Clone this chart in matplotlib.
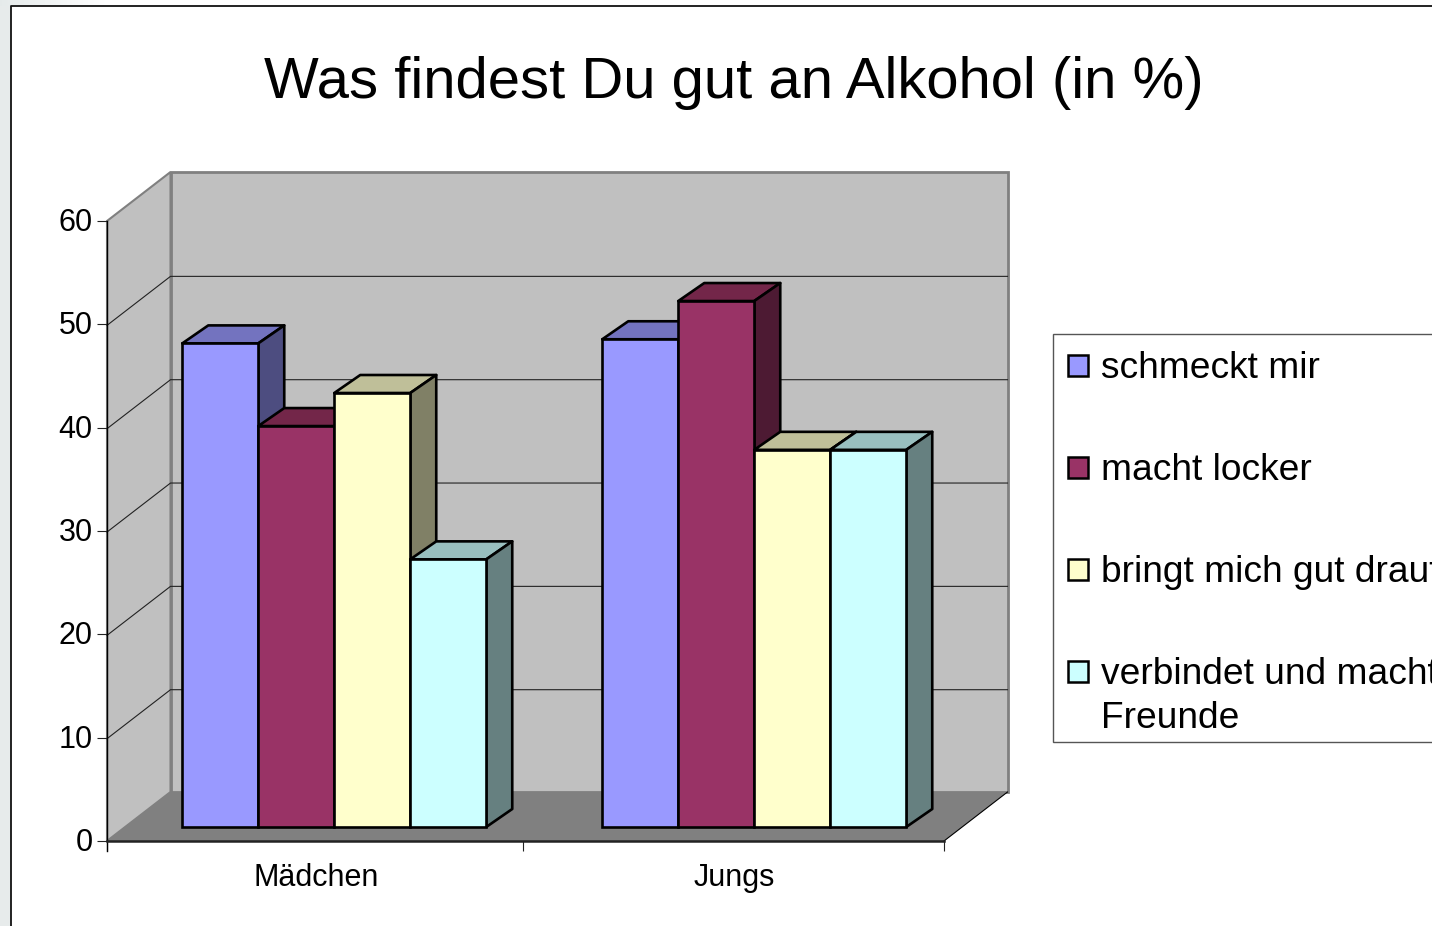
import numpy as np
import matplotlib
matplotlib.use('Agg')
import matplotlib.pyplot as plt
from matplotlib.patches import Rectangle
from matplotlib.transforms import ScaledTranslation

plt.rcParams['font.family'] = ['Liberation Sans', 'DejaVu Sans']

title = 'Was findest Du gut an Alkohol (in %)'
groups = ['Mädchen', 'Jungs']
series = ['schmeckt mir', 'macht locker', 'bringt mich gut drauf', 'verbindet und macht\nFreunde']
schmeckt = [46.8, 47.2]
locker = [38.8, 50.9]
drauf = [42, 36.5]
freunde = [25.9, 36.5]
values = [schmeckt, locker, drauf, freunde]
y_ticks = [0, 10, 20, 30, 40, 50, 60]
colors = ['#9999ff', '#993366', '#ffffcc', '#ccffff']
tops = ['#7373bf', '#732649', '#bfbf99', '#99bfbf']
sides = ['#4d4d80', '#4d1a33', '#808066', '#668080']

W, H = 1432, 926
fig = plt.figure(figsize=(W / 100, H / 100), dpi=100, facecolor='white')

# window chrome lives in a pixel axes
bg = fig.add_axes([0, 0, 1, 1], zorder=0)
fade = np.linspace(0, 1, 200).reshape(1, -1)
bg.imshow(np.dstack([0.90 + 0.10 * fade, 0.92 + 0.08 * fade, 0.92 + 0.08 * fade]),
          extent=(0, 110, 6, 0), aspect='auto')
bg.add_patch(Rectangle((0, 6), 11, H, fc='#e7ebeb', ec='none'))
bg.plot([11, 11, W], [H, 6, 6], color='#111111', lw=1.3)
bg.set_xlim(0, W)
bg.set_ylim(H, 0)
bg.axis('off')

# axes = the front plane of the 3d box
ax = fig.add_axes([107 / W, (H - 841) / H, (944 - 107) / W, 620 / H], zorder=1)
ax.set_xlim(0, len(groups))
ax.set_ylim(0, 60)
ax.patch.set_visible(False)
for s in ax.spines.values():
    s.set_visible(False)

ux = len(groups) / 837.0   # data per pixel
uy = 60 / 620.0
wall_dx, wall_dy = 63.5 * ux, 49 * uy
base_dx, base_dy = 18 * ux, 14 * uy
bar_dx, bar_dy = 26 * ux, 18 * uy
bar_w = 76 * ux
group_step = 420 * ux
n = len(series)

# walls and floor
xr = len(groups)
ax.fill([0, wall_dx, wall_dx, 0], [0, wall_dy, 60 + wall_dy, 60], fc='#c0c0c0', ec='#808080', lw=1.5, clip_on=False, zorder=1)
ax.fill([wall_dx, xr + wall_dx, xr + wall_dx, wall_dx], [wall_dy, wall_dy, 60 + wall_dy, 60 + wall_dy],
        fc='#c0c0c0', ec='#808080', lw=2, clip_on=False, zorder=1)
ax.fill([0, xr, xr + wall_dx, wall_dx], [0, 0, wall_dy, wall_dy], fc='#808080', ec='none', clip_on=False, zorder=2)
for v in y_ticks[1:-1]:
    ax.plot([0, wall_dx, xr + wall_dx], [v - 0.1, v - 0.1 + wall_dy, v - 0.1 + wall_dy], color='#222222', lw=0.8,
            clip_on=False, zorder=1.5)

# bars, painted left to right
z = 3
for g in range(len(groups)):
    for j in range(n):
        v = values[j][g]
        x0 = 0.5 + g * group_step + (j - n / 2) * bar_w + base_dx
        x1 = x0 + bar_w
        y0 = base_dy
        y1 = base_dy + v
        ax.fill([x0, x1, x1 + bar_dx, x0 + bar_dx], [y1, y1, y1 + bar_dy, y1 + bar_dy],
                fc=tops[j], ec='black', lw=1.9, clip_on=False, zorder=z, joinstyle='round')
        ax.fill([x1, x1 + bar_dx, x1 + bar_dx, x1], [y0, y0 + bar_dy, y1 + bar_dy, y1],
                fc=sides[j], ec='black', lw=1.9, clip_on=False, zorder=z, joinstyle='round')
        ax.bar(x0, v, width=bar_w, bottom=y0, align='edge', color=colors[j], edgecolor='black',
               linewidth=1.9, clip_on=False, zorder=z + 0.5)
        z += 1

# axis lines
ax.plot([0, 0], [-10 * uy, 60], color='black', lw=1, clip_on=False, zorder=z)
ax.plot([0, xr], [0, 0], color='#222222', lw=1.8, clip_on=False, zorder=z)
ax.plot([xr, xr + wall_dx], [0, wall_dy], color='black', lw=0.8, clip_on=False, zorder=2.5)

ax.set_yticks(y_ticks)
ax.set_yticklabels([str(v) for v in y_ticks], fontsize=22)
ax.set_xticks([0, 0.995, 2])
ax.set_xticklabels([])
ax.set_xticks([i + 0.5 for i in range(len(groups))], minor=True)
ax.set_xticklabels(groups, minor=True, fontsize=22)
ax.tick_params(axis='y', length=7.2, width=0.8, pad=3, color='#222222')
ax.tick_params(axis='x', which='major', length=7.2, width=0.8, color='#222222')
ax.tick_params(axis='x', which='minor', length=0, pad=15.5)
up = ScaledTranslation(0, 1.5 / 100, fig.dpi_scale_trans)
for lab in ax.get_yticklabels():
    lab.set_transform(lab.get_transform() + up)

fig.text(734 / W, 1 - 83 / H, title, fontsize=41.8, ha='center', va='center', color='black')

# legend, runs off the right edge like in the screenshot
fg = fig.add_axes([0, 0, 1, 1], zorder=2)
fg.set_xlim(0, W)
fg.set_ylim(H, 0)
fg.axis('off')
fg.add_patch(Rectangle((1053, 334), 500, 408, fc='white', ec='#555555', lw=1, clip_on=True))
rows = [365, 467, 569, 671]
for name, col, yy in zip(series, colors, rows):
    fg.add_patch(Rectangle((1068, yy - 10), 20, 21, fc=col, ec='black', lw=1.8))
    fg.text(1101, yy - 14, name, fontsize=26.7, ha='left', va='top', linespacing=1.34, clip_on=True, color='black')

fig.savefig('out.png', dpi=100)
